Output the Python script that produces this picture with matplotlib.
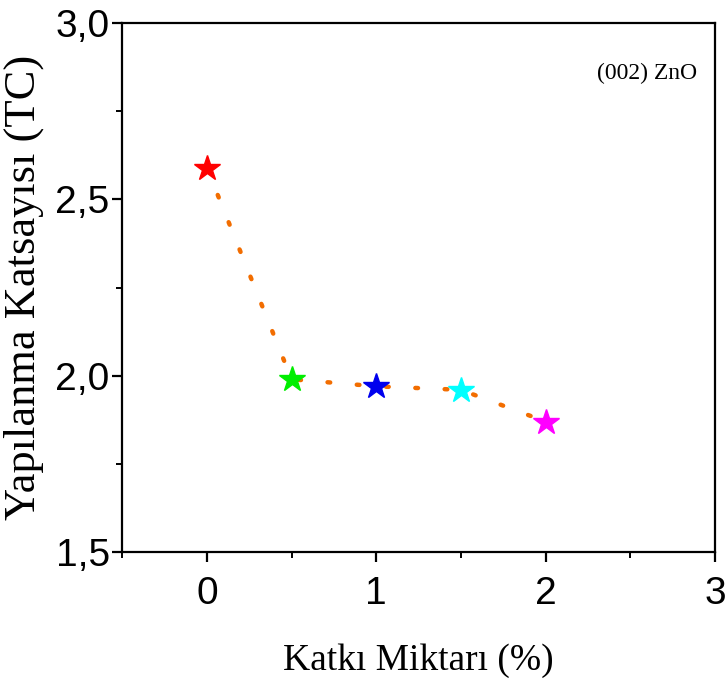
import matplotlib
matplotlib.use("Agg")
import matplotlib.pyplot as plt
from matplotlib import font_manager
from matplotlib.ticker import MultipleLocator, FixedLocator

doping = [0, 0.5, 1, 1.5, 2]
tc = [2.59, 1.99, 1.97, 1.96, 1.87]
colors = ["#ff0000", "#00ee00", "#0000ee", "#00ffff", "#ff00ff"]
xticks = [0, 1, 2, 3]
xticklabels = ["0", "1", "2", "3"]
yticks = [1.5, 2.0, 2.5, 3.0]
yticklabels = ["1,5", "2,0", "2,5", "3,0"]

names = {f.name for f in font_manager.fontManager.ttflist}
tick_font = "Liberation Sans Narrow" if "Liberation Sans Narrow" in names else "Liberation Sans"

fig = plt.figure(figsize=(7.27, 6.82), dpi=100)
ax = fig.add_axes([0.168, 0.1906, 0.8155, 0.7754])

ax.plot(doping, tc, color="#f26d00", lw=3.2, dashes=(0.6, 6), dash_capstyle="round", zorder=2)
for x, y, c in zip(doping, tc, colors):
    ax.plot([x], [y], marker="*", ms=19, color=c, mec=c, ls="none", zorder=3)

ax.set_xlim(-0.5, 3)
ax.set_ylim(1.5, 3.0)
ax.xaxis.set_major_locator(FixedLocator(xticks))
ax.set_xticklabels(xticklabels)
ax.xaxis.set_minor_locator(MultipleLocator(0.5))
ax.yaxis.set_major_locator(FixedLocator(yticks))
ax.set_yticklabels(yticklabels)
ax.yaxis.set_minor_locator(MultipleLocator(0.25))

for s in ax.spines.values():
    s.set_linewidth(1.6)
ax.tick_params(which="major", direction="out", length=7, width=1.6, labelsize=28, pad=6)
ax.tick_params(which="minor", direction="out", length=4, width=1.4)
for lab in ax.get_xticklabels() + ax.get_yticklabels():
    lab.set_fontfamily(tick_font)
ax.tick_params(axis="x", pad=10)
ax.tick_params(axis="y", pad=2)

ax.set_xlabel("Katkı Miktarı (%)", fontfamily="Liberation Serif", fontsize=27, labelpad=23)
ax.set_ylabel("Yapılanma Katsayısı (TC)", fontfamily="Liberation Serif", fontsize=32, labelpad=8)
ax.text(0.97, 0.905, "(002) ZnO", transform=ax.transAxes, ha="right", va="center",
        fontfamily="Liberation Serif", fontsize=17)

fig.savefig("out.png", dpi=100)
